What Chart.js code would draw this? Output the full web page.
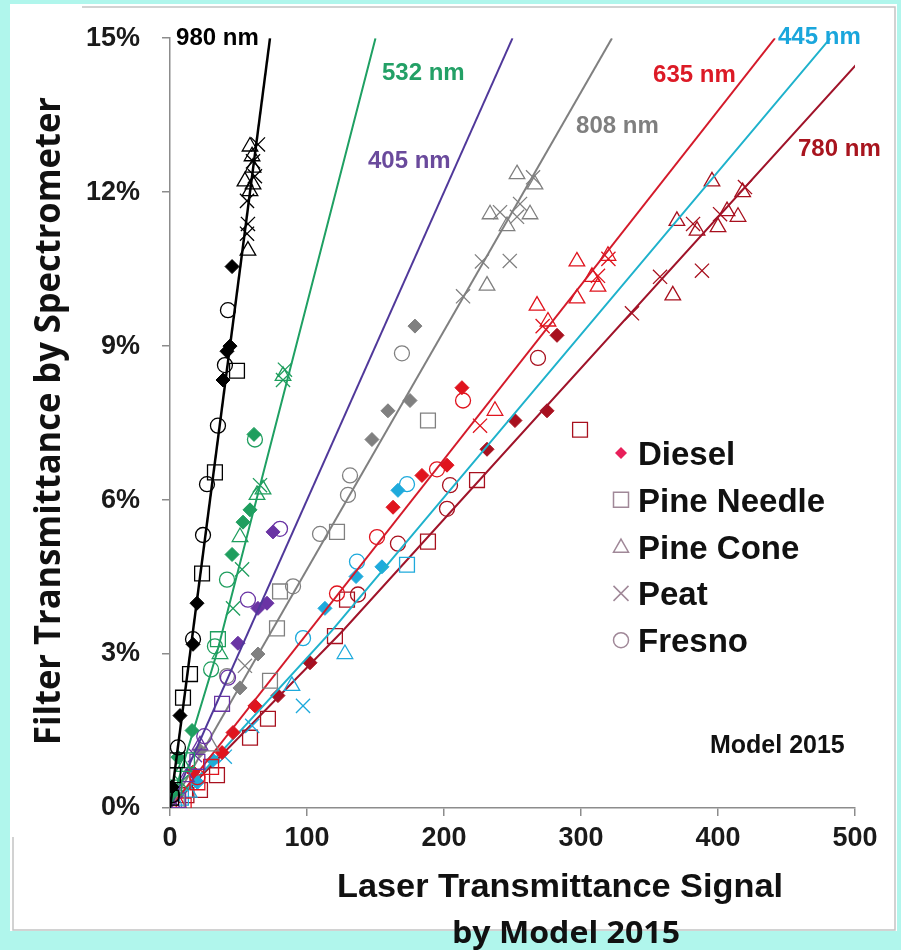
<!DOCTYPE html>
<html>
<head>
<meta charset="utf-8">
<script src="https://cdn.jsdelivr.net/npm/chart.js@4.4.0/dist/chart.umd.min.js"></script>
<style>
  html, body { margin: 0; padding: 0; background: #b0f6ec; }
  #wrap { width: 901px; height: 950px; }
</style>
</head>
<body>
<div id="wrap"><canvas id="chart" width="901" height="950"></canvas></div>
<script>
// axes
const xTicks = [0, 100, 200, 300, 400, 500];
const yTicks = [0, 3, 6, 9, 12, 15];

const fuels = ['Diesel', 'Pine Needle', 'Pine Cone', 'Peat', 'Fresno'];
const wavelengths = ['980 nm', '532 nm', '405 nm', '808 nm', '635 nm', '445 nm', '780 nm'];

// points: [laser signal, filter transmittance %]
const nm980 = {
  'Diesel': [[1.5, 0.41], [7.3, 1.80], [16.8, 3.19], [19.7, 3.99], [38.7, 8.34], [41.6, 8.9], [43.8, 9.0], [45.3, 10.55]],
  'Pine Needle': [[0.8, 0.2], [2.2, 0.64], [5.1, 0.93], [9.5, 2.15], [14.6, 2.61], [23.4, 4.57], [32.8, 6.54], [48.9, 8.52]],
  'Pine Cone': [[56.9, 10.86], [58.4, 12.02], [60.6, 12.15], [54.7, 12.21], [60.6, 12.48], [59.9, 12.70], [58.4, 12.89]],
  'Peat': [[56.2, 11.19], [56.9, 11.38], [56.2, 11.83], [62.0, 12.31], [60.6, 12.6], [64.2, 12.93]],
  'Fresno': [[1.5, 0.25], [5.8, 1.18], [16.8, 3.29], [24.1, 5.32], [27.0, 6.31], [35.0, 7.45], [40.1, 8.63], [42.3, 9.70]]
};
const nm532 = {
  'Diesel': [[2, 0.3], [5.8, 0.99], [16.1, 1.51], [45.3, 4.94], [53.3, 5.57], [58.4, 5.81], [61.3, 7.28]],
  'Pine Needle': [[3, 0.4], [12.4, 0.93], [35.0, 3.29]],
  'Pine Cone': [[10, 0.8], [36.5, 3.0], [51.1, 5.28], [63.5, 6.10], [67.9, 6.21], [82.5, 8.42]],
  'Peat': [[8, 0.5], [46.0, 3.89], [52.6, 4.65], [65.7, 6.29], [83.9, 8.54], [82.5, 8.34]],
  'Fresno': [[30, 2.7], [32.8, 3.15], [41.6, 4.45], [62, 7.18]]
};
const nm405 = {
  'Diesel': [[49.6, 3.21], [64.2, 3.89], [70.8, 3.99], [75.2, 5.38]],
  'Pine Needle': [[20, 0.9], [38, 2.03], [6, 0.15]],
  'Pine Cone': [[12, 0.6], [21.9, 1.22]],
  'Peat': [[18.2, 1.03], [4, 0.1]],
  'Fresno': [[25, 1.4], [42.3, 2.54], [56.9, 4.06], [80.3, 5.44]]
};
const nm808 = {
  'Diesel': [[21.9, 1.12], [51.1, 2.34], [64.2, 3.0], [147.4, 7.18], [159.1, 7.74], [175.2, 7.94], [178.8, 9.39]],
  'Pine Needle': [[5, 0.1], [73, 2.48], [78.1, 3.50], [80.3, 4.22], [121.9, 5.38], [188.3, 7.55]],
  'Pine Cone': [[30, 1.2], [231.4, 10.18], [246, 11.34], [233.6, 11.57], [262.8, 11.57], [266.4, 12.15], [253.3, 12.35]],
  'Peat': [[54.7, 2.77], [213.9, 9.97], [227.7, 10.65], [248, 10.66], [255.5, 11.77], [240.9, 11.61], [253.3, 11.52], [265, 12.29]],
  'Fresno': [[41.6, 2.57], [89.8, 4.32], [109.5, 5.34], [129.9, 6.10], [131.4, 6.48], [169.3, 8.86]]
};
const nm635 = {
  'Diesel': [[16.8, 0.70], [38, 1.08], [46, 1.47], [62, 1.99], [162.8, 5.86], [183.9, 6.48], [202.2, 6.68], [213.1, 8.19]],
  'Pine Needle': [[20, 0.5], [30, 0.8], [10, 0.05]],
  'Pine Cone': [[6, 0.1], [237.2, 7.74], [267.9, 9.79], [275.9, 9.48], [297.1, 9.93], [297, 10.65], [308, 10.35], [312.4, 10.16], [319.7, 10.76]],
  'Peat': [[226.3, 7.45], [272, 9.39], [312.4, 10.37], [320, 10.70]],
  'Fresno': [[20, 0.6], [121.9, 4.18], [151.1, 5.28], [194.9, 6.60], [213.9, 7.94]]
};
const nm445 = {
  'Diesel': [[20, 0.5], [31.4, 0.93], [113.1, 3.89], [135.8, 4.51], [154.7, 4.70], [166.4, 6.19]],
  'Pine Needle': [[8, 0.2], [173, 4.74]],
  'Pine Cone': [[89, 2.38], [127.7, 3.0], [14, 0.3]],
  'Peat': [[60, 1.6], [97.1, 1.99], [40, 1.0]],
  'Fresno': [[3, 0.05], [97.1, 3.31], [136.5, 4.80], [173, 6.31]]
};
const nm780 = {
  'Diesel': [[78.8, 2.19], [102.2, 2.83], [231.4, 6.99], [251.8, 7.55], [275.2, 7.74], [282.5, 9.21]],
  'Pine Needle': [[12, 0.25], [21.9, 0.35], [34.3, 0.64], [58.4, 1.37], [71.5, 1.74], [120.4, 3.35], [129.2, 4.06], [188.3, 5.19], [224.1, 6.39], [299.3, 7.37]],
  'Pine Cone': [[367, 9.99], [370, 11.44], [384.7, 11.25], [400, 11.32], [406.6, 11.63], [414.6, 11.52], [395.6, 12.21], [418, 12.0]],
  'Peat': [[337.2, 9.64], [357.7, 10.35], [381.8, 11.38], [388.3, 10.47], [401.5, 11.57], [419.7, 12.1]],
  'Fresno': [[137.2, 4.16], [166.4, 5.15], [202.2, 5.83], [204.4, 6.29], [268.6, 8.77]]
};

// fitted lines
const fit980 = [[0, 0], [73, 15]];
const fit532 = [[0, 0], [34, 3], [150, 15]];
const fit405 = [[0, 0], [250, 15]];
const fit808 = [[0, 0], [322.6, 15]];
const fit635 = [[0, 0], [441.6, 15]];
const fit445 = [[0, 0], [118, 3.45], [482, 15]];
const fit780 = [[0, 0], [126, 3.45], [500.7, 14.48]];

// where the wavelength names sit, in data units
const labelAt = [[4.4, 15.0], [154.7, 14.32], [144.5, 12.6], [296.4, 13.28], [352.6, 14.28], [443.8, 15.02], [458.4, 12.83]];

const groups = [nm980, nm532, nm405, nm808, nm635, nm445, nm780];
const fits = [fit980, fit532, fit405, fit808, fit635, fit445, fit780];
const colors = ['#000000', '#1f9e5e', '#6a34a4', '#808080', '#e0141e', '#1eaadc', '#a8101e'];
const lineColors = ['#000000', '#1fa063', '#50389a', '#808080', '#d41a2a', '#1fb2cc', '#a0142a'];
const labelColors = ['#000000', '#23a066', '#6a4a9c', '#7f7f7f', '#dc1a26', '#1aa6dc', '#a8141e'];

const markers = {
  'Diesel': { style: 'rectRot', r: 7, filled: true },
  'Pine Needle': { style: 'rect', r: 10.5 },
  'Pine Cone': { style: 'triangle', r: 9 },
  'Peat': { style: 'crossRot', r: 10 },
  'Fresno': { style: 'circle', r: 7.5 }
};

const toXY = arr => arr.map(p => ({ x: p[0], y: p[1] }));

const datasets = [];
groups.forEach((g, i) => {
  datasets.push({
    label: wavelengths[i] + ' fit',
    data: toXY(fits[i]),
    showLine: true,
    borderColor: lineColors[i],
    borderWidth: i === 0 ? 2.5 : 2,
    pointRadius: 0,
    fill: false
  });
  fuels.forEach(f => {
    const m = markers[f];
    datasets.push({
      label: wavelengths[i] + ' ' + f,
      data: toXY(g[f]),
      showLine: false,
      pointStyle: m.style,
      pointRadius: m.r,
      borderColor: colors[i],
      backgroundColor: m.filled ? colors[i] : 'rgba(255,255,255,0)',
      borderWidth: m.filled ? 1 : 1.3
    });
  });
});

function fitText(ctx, text, x, y, width, font, rot) {
  ctx.save();
  ctx.font = font;
  const w = ctx.measureText(text).width;
  ctx.translate(x, y);
  if (rot) ctx.rotate(rot);
  ctx.scale(width / w, 1);
  ctx.textAlign = 'left';
  ctx.textBaseline = 'alphabetic';
  ctx.fillText(text, 0, 0);
  ctx.restore();
}

function legendMark(ctx, f, x, y) {
  const s = 7.5;
  ctx.save();
  ctx.lineWidth = 1.5;
  ctx.strokeStyle = '#a08898';
  ctx.beginPath();
  if (f === 'Diesel') {
    ctx.fillStyle = '#e8205a';
    ctx.moveTo(x, y - 6); ctx.lineTo(x + 6, y); ctx.lineTo(x, y + 6); ctx.lineTo(x - 6, y);
    ctx.closePath(); ctx.fill();
  } else if (f === 'Pine Needle') {
    ctx.rect(x - s, y - s, 2 * s, 2 * s); ctx.stroke();
  } else if (f === 'Pine Cone') {
    ctx.moveTo(x, y - s); ctx.lineTo(x + s, y + s * 0.75); ctx.lineTo(x - s, y + s * 0.75);
    ctx.closePath(); ctx.stroke();
  } else if (f === 'Peat') {
    ctx.moveTo(x - s, y - s); ctx.lineTo(x + s, y + s);
    ctx.moveTo(x + s, y - s); ctx.lineTo(x - s, y + s); ctx.stroke();
  } else {
    ctx.arc(x, y, s, 0, Math.PI * 2); ctx.stroke();
  }
  ctx.restore();
}

const decor = {
  id: 'decor',
  beforeDraw(chart) {
    const ctx = chart.ctx;
    ctx.save();
    ctx.fillStyle = '#b0f6ec';
    ctx.fillRect(0, 0, 901, 950);
    ctx.fillStyle = '#ffffff';
    ctx.fillRect(10, 4, 887, 927);
    ctx.strokeStyle = '#c4c4c4';
    ctx.lineWidth = 1.5;
    ctx.beginPath();
    ctx.moveTo(82, 7); ctx.lineTo(895, 7); ctx.lineTo(895, 930); ctx.lineTo(13, 930); ctx.lineTo(13, 837);
    ctx.stroke();
    ctx.restore();
  },
  afterDraw(chart) {
    const ctx = chart.ctx;
    const xs = chart.scales.x, ys = chart.scales.y;
    ctx.save();
    // wavelength names
    ctx.font = 'bold 24px "Liberation Sans", Arial, sans-serif';
    ctx.textBaseline = 'middle';
    ctx.textAlign = 'left';
    wavelengths.forEach((w, i) => {
      ctx.fillStyle = labelColors[i];
      ctx.fillText(w, xs.getPixelForValue(labelAt[i][0]), ys.getPixelForValue(labelAt[i][1]));
    });
    // legend
    ctx.fillStyle = '#111';
    ctx.font = 'bold 33px "Liberation Sans", Arial, sans-serif';
    ctx.textBaseline = 'alphabetic';
    fuels.forEach((f, i) => {
      const base = 465 + i * 46.8;
      legendMark(ctx, f, 621, base - 12);
      ctx.fillStyle = '#111';
      ctx.fillText(f, 638, base);
    });
    ctx.font = 'bold 25px "Liberation Sans", Arial, sans-serif';
    ctx.fillText('Model 2015', 710, 753);
    // axis titles
    ctx.fillStyle = '#111';
    fitText(ctx, 'Laser Transmittance Signal', 337, 897, 446, 'bold 33px "Liberation Sans", Arial, sans-serif');
    fitText(ctx, 'by Model 2015', 452, 943, 228, 'bold 30px "Open Sans", sans-serif');
    fitText(ctx, 'Filter Transmittance by Spectrometer', 60, 745, 648, 'bold 35px "Open Sans", sans-serif', -Math.PI / 2);
    ctx.restore();
  }
};

const tickFont = { family: '"Liberation Sans", Arial, sans-serif', size: 27, weight: 'bold' };

new Chart(document.getElementById('chart'), {
  type: 'scatter',
  data: { datasets },
  options: {
    responsive: false,
    animation: false,
    devicePixelRatio: 1,
    layout: { padding: { left: 0, right: 46, top: 33, bottom: 0 } },
    plugins: { legend: { display: false }, tooltip: { enabled: false } },
    scales: {
      x: {
        type: 'linear',
        min: xTicks[0],
        max: xTicks[xTicks.length - 1],
        afterBuildTicks: s => { s.ticks = xTicks.map(v => ({ value: v })); },
        afterFit: s => { s.height = 142; },
        grid: { drawOnChartArea: false, drawTicks: true, tickLength: 8, color: '#8c8c8c', lineWidth: 1.5 },
        border: { color: '#8c8c8c', width: 1.5 },
        ticks: { font: tickFont, color: '#1a1a1a', padding: 6, maxRotation: 0 }
      },
      y: {
        type: 'linear',
        min: yTicks[0],
        max: yTicks[yTicks.length - 1],
        afterBuildTicks: s => { s.ticks = yTicks.map(v => ({ value: v })); },
        afterFit: s => { s.width = 170; },
        grid: { drawOnChartArea: false, drawTicks: true, tickLength: 8, color: '#8c8c8c', lineWidth: 1.5 },
        border: { color: '#8c8c8c', width: 1.5 },
        ticks: { font: tickFont, color: '#1a1a1a', padding: 22, callback: v => v + '%' }
      }
    }
  },
  plugins: [decor]
});
</script>
</body>
</html>
